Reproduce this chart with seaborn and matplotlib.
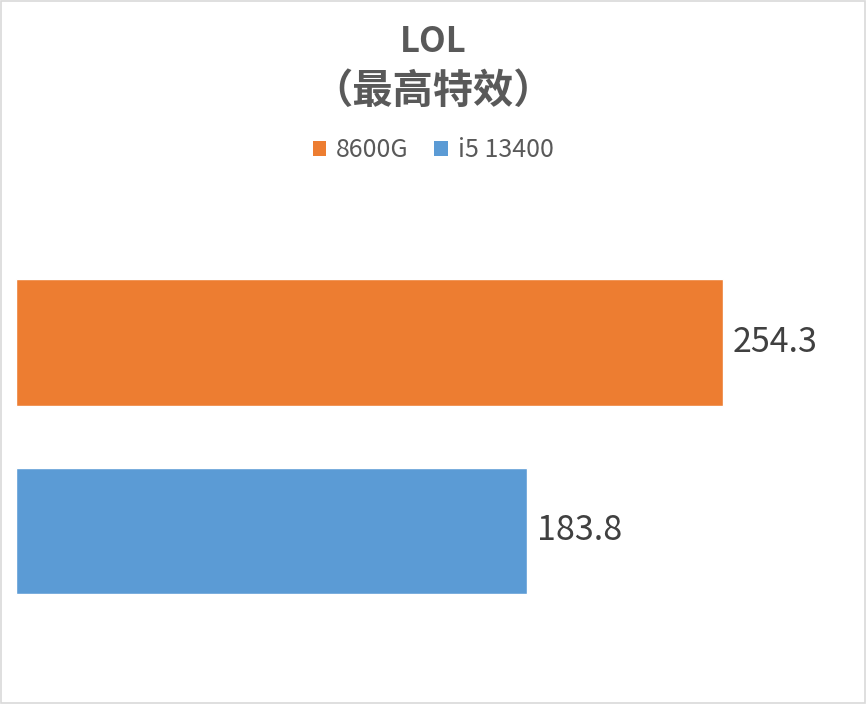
import matplotlib
matplotlib.use("Agg")
import matplotlib.pyplot as plt
import seaborn as sns
import pandas as pd
from matplotlib.patches import Rectangle, Patch

sns.set_theme(style="white")
plt.rcParams['font.family'] = ['Noto Sans CJK SC', 'DejaVu Sans']

categories = ["8600G", "i5 13400"]
values = [254.3, 183.8]
colors = ["#ED7D31", "#5B9BD5"]
title_lines = ["LOL", "（最高特效）"]

df = pd.DataFrame({"cpu": categories, "fps": values})

fig = plt.figure(figsize=(8.66, 7.04), dpi=100)
ax = fig.add_axes([16/866, 0.1119, (850-16)/866, 0.5355])
sns.barplot(data=df, x="fps", y="cpu", hue="cpu", palette=colors,
            orient="h", width=0.67, dodge=False, legend=False, ax=ax,
            saturation=1)
ax.set_xlim(0, 300)
ax.set_ylim(1.5, -0.5)
ax.set_xlabel("")
ax.set_ylabel("")
ax.set_xticks([])
ax.set_yticks([])
for s in ax.spines.values():
    s.set_visible(False)
for i, v in enumerate(values):
    ax.text(v + 3.5, i, f"{v:.1f}", va="center", ha="left",
            fontsize=24.5, color="#404040")

fig.text(0.5, 1 - 41/704, title_lines[0], ha="center", va="center",
         fontsize=25, fontweight="bold", color="#595959")
fig.text(0.5, 1 - 91/704, title_lines[1], ha="center", va="center",
         fontsize=29, fontweight="bold", color="#595959")

handles = [Patch(facecolor=c, edgecolor="none") for c in colors]
fig.legend(handles, categories, loc="center", bbox_to_anchor=(0.5, 1 - 150/704),
           ncol=2, frameon=False, fontsize=18, labelcolor="#595959",
           handlelength=0.55, handleheight=0.55, handletextpad=0.4,
           columnspacing=1.0)

fig.patches.append(Rectangle((0.0008, 0.001), 0.998, 0.998, transform=fig.transFigure,
                             fill=False, edgecolor="#D9D9D9", linewidth=1.2))

fig.savefig("out.png", dpi=100, facecolor="white")
